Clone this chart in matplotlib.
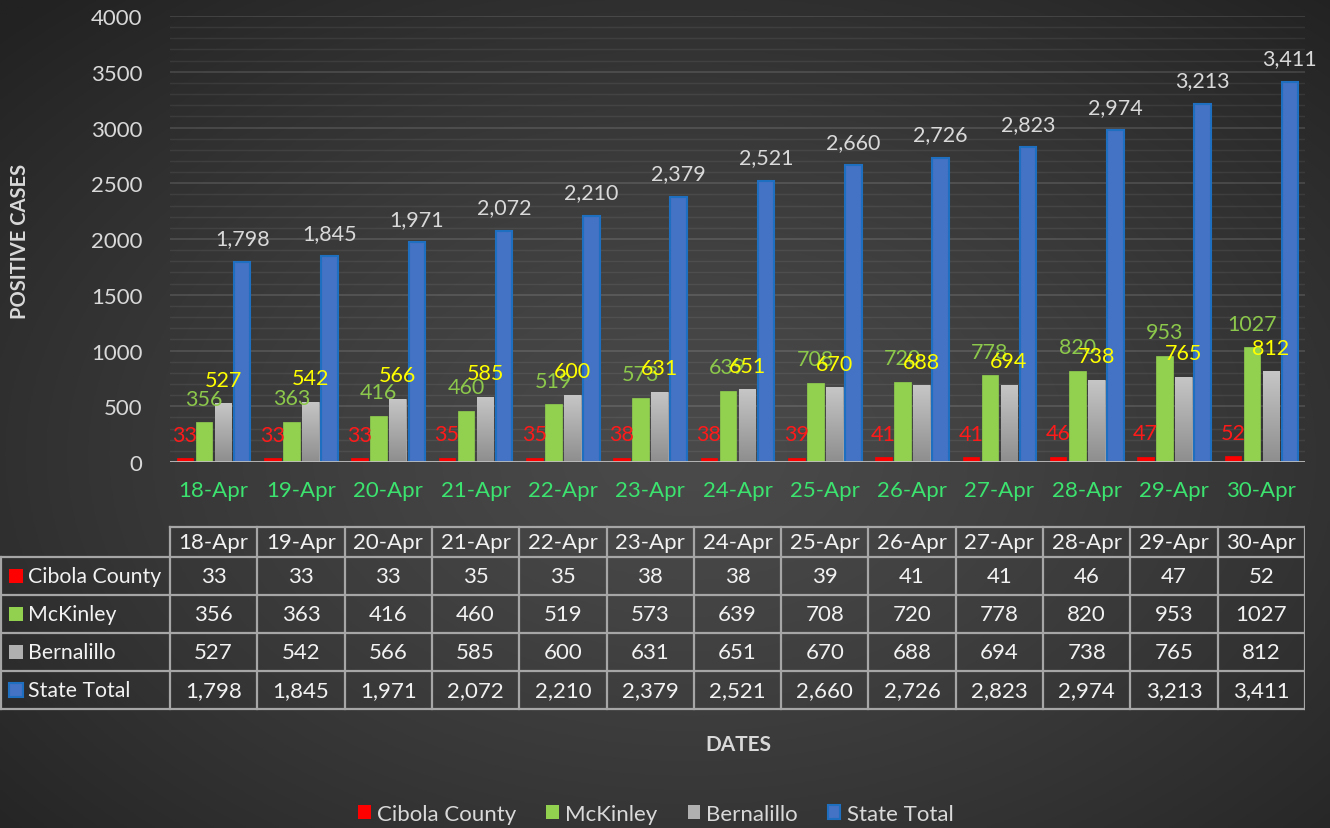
import numpy as np
import matplotlib
matplotlib.use("Agg")
import matplotlib.pyplot as plt
from matplotlib.colors import LinearSegmentedColormap
from matplotlib.patches import Patch, Rectangle

plt.rcParams['font.family'] = ['Lato', 'DejaVu Sans']

# ---------------- data ----------------
dates = ['18-Apr', '19-Apr', '20-Apr', '21-Apr', '22-Apr', '23-Apr', '24-Apr',
         '25-Apr', '26-Apr', '27-Apr', '28-Apr', '29-Apr', '30-Apr']
series_names = ['Cibola County', 'McKinley', 'Bernalillo', 'State Total']
cibola = [33, 33, 33, 35, 35, 38, 38, 39, 41, 41, 46, 47, 52]
mckinley = [356, 363, 416, 460, 519, 573, 639, 708, 720, 778, 820, 953, 1027]
bernalillo = [527, 542, 566, 585, 600, 631, 651, 670, 688, 694, 738, 765, 812]
state_total = [1798, 1845, 1971, 2072, 2210, 2379, 2521, 2660, 2726, 2823, 2974, 3213, 3411]
yticks = [0, 500, 1000, 1500, 2000, 2500, 3000, 3500, 4000]

series = [cibola, mckinley, bernalillo, state_total]
fill_colors = ['#ff0000', '#92d050', '#b4b4b4', '#4472c4']
edge_colors = ['#ff0000', '#92d050', '#b4b4b4', '#1f6fc0']
label_colors = ['#ff1a1a', '#8cc84b', '#ffff00', '#d9d9d9']
txt = '#d9d9d9'

W, H = 1330, 829
fig = plt.figure(figsize=(W / 100, H / 100), dpi=100)

# ---------------- background radial gradient ----------------
bg = fig.add_axes([0, 0, 1, 1], zorder=-10)
yy, xx = np.mgrid[0:1:300j, 0:1:480j]
r = np.sqrt(((xx - 0.52) / 0.72) ** 2 + ((yy - 0.45) / 0.75) ** 2)
r = np.clip(r, 0, 1)
c0 = np.array([0x4a, 0x4a, 0x4a]) / 255
c1 = np.array([0x22, 0x22, 0x22]) / 255
img = c0[None, None, :] + (c1 - c0)[None, None, :] * r[..., None] ** 1.3
bg.imshow(img, extent=[0, 1, 0, 1], aspect='auto', origin='lower')
bg.set_axis_off()

# ---------------- main plot ----------------
def px2fig_x(p):
    return p / W

def px2fig_y(p):
    return (H - p) / H

x_left, x_right, y_top, y_bot = 170, 1305, 17, 463
ax = fig.add_axes([px2fig_x(x_left), px2fig_y(y_bot),
                   (x_right - x_left) / W, (y_bot - y_top) / H])
ax.set_facecolor('none')
n = len(dates)
x = np.arange(n)

# gridlines
for v in range(100, 4001, 100):
    if v % 500 == 0:
        ax.axhline(v, color='#ffffff', alpha=0.13, lw=1.3, zorder=0)
    else:
        ax.axhline(v, color='#ffffff', alpha=0.07, lw=1.0, zorder=0)

offsets = [-0.327, -0.109, 0.109, 0.327]
width = 0.19
gray_cmap = LinearSegmentedColormap.from_list('g', ['#8e8e8e', '#c6c6c6'])
for i, vals in enumerate(series):
    bars = ax.bar(x + offsets[i], vals, width=width, color=fill_colors[i],
                  edgecolor=edge_colors[i], linewidth=1.5 if i == 3 else 0.5,
                  zorder=3)
    if i == 2:
        for b in bars:
            x0, h = b.get_x(), b.get_height()
            grad = np.linspace(0, 1, 100).reshape(-1, 1)
            im = ax.imshow(grad, cmap=gray_cmap, extent=[x0, x0 + b.get_width(), 0, h],
                           aspect='auto', origin='lower', zorder=3.5)
            im.set_clip_path(b)
    for xi, v in zip(x, vals):
        lab = f'{v:,}' if i == 3 else f'{v}'
        ax.annotate(lab, (xi + offsets[i], v), xytext=(0, 17), textcoords='offset points',
                    ha='center', va='center', color=label_colors[i], fontsize=15.5, zorder=5)

ax.set_xlim(-0.5, n - 0.5)
ax.set_ylim(0, 4000)
ax.axhline(0, color='#bfbfbf', lw=2, zorder=4)

ax.set_yticks(yticks)
ax.set_yticklabels([str(v) for v in yticks])
ax.set_xticks(x)
ax.set_xticklabels(dates)
ax.tick_params(axis='y', length=0, pad=20, labelsize=16, labelcolor=txt)
ax.tick_params(axis='x', length=0, pad=13, labelsize=16, labelcolor='#3ce36f')
for s in ax.spines.values():
    s.set_visible(False)

fig.text(px2fig_x(20), px2fig_y(241), 'POSITIVE CASES', rotation=90, ha='center',
         va='center', fontsize=14.5, fontweight='bold', color=txt)
fig.text(px2fig_x(738), px2fig_y(745), 'DATES', ha='center', va='center',
         fontsize=15, fontweight='bold', color=txt)

# ---------------- data table ----------------
t_top, t_bot = 520, 715
tax = fig.add_axes([0, px2fig_y(t_bot), x_right / W, (t_bot - t_top) / H])
tax.set_facecolor('none')
tax.set_axis_off()
cw = (x_right - x_left) / n
tx_left = (n - 0.5) - x_right / cw
tax.set_xlim(tx_left, n - 0.5)
tax.set_ylim(t_bot, t_top)

row_edges = [528, 558, 596, 634, 672, 710]
lc = '#a6a6a6'
lw = 1.6
lab_left = tx_left + 1 / cw
tax.plot([-0.5, n - 0.5], [row_edges[0]] * 2, color=lc, lw=lw)
for yv in row_edges[1:]:
    tax.plot([lab_left, n - 0.5], [yv] * 2, color=lc, lw=lw)
for xv in np.arange(-0.5, n, 1.0):
    tax.plot([xv, xv], [row_edges[0], row_edges[-1]], color=lc, lw=lw)
tax.plot([lab_left, lab_left], [row_edges[1], row_edges[-1]], color=lc, lw=lw)

for j, d in enumerate(dates):
    tax.text(j, (row_edges[0] + row_edges[1]) / 2, d, ha='center', va='center',
             fontsize=16, color='#f2f2f2')
marker_cols = ['#ff0000', '#92d050', '#b0b0b0', '#4472c4']
for i, (name, vals) in enumerate(zip(series_names, series)):
    yc = (row_edges[i + 1] + row_edges[i + 2]) / 2
    tax.add_patch(Rectangle((tx_left + 9 / cw, yc - 7), 14 / cw, 14,
                            facecolor=marker_cols[i], edgecolor=edge_colors[i],
                            lw=1.5 if i == 3 else 0))
    tax.text(tx_left + 28 / cw, yc, name, ha='left', va='center', fontsize=15.3,
             color='#f2f2f2')
    for j, v in enumerate(vals):
        lab = f'{v:,}' if i == 3 else f'{v}'
        tax.text(j, yc, lab, ha='center', va='center', fontsize=16, color='#f2f2f2')

# ---------------- legend ----------------
handles = [Patch(facecolor=marker_cols[i], edgecolor=edge_colors[i],
                 lw=1.5 if i == 3 else 0) for i in range(4)]
leg = fig.legend(handles, series_names, ncol=4, loc='center',
                 bbox_to_anchor=(656 / W, px2fig_y(815)), frameon=False,
                 fontsize=16, handlelength=0.55, handleheight=0.55,
                 handletextpad=0.3, columnspacing=1.35, labelcolor=txt)

fig.savefig('out.png', dpi=100)
